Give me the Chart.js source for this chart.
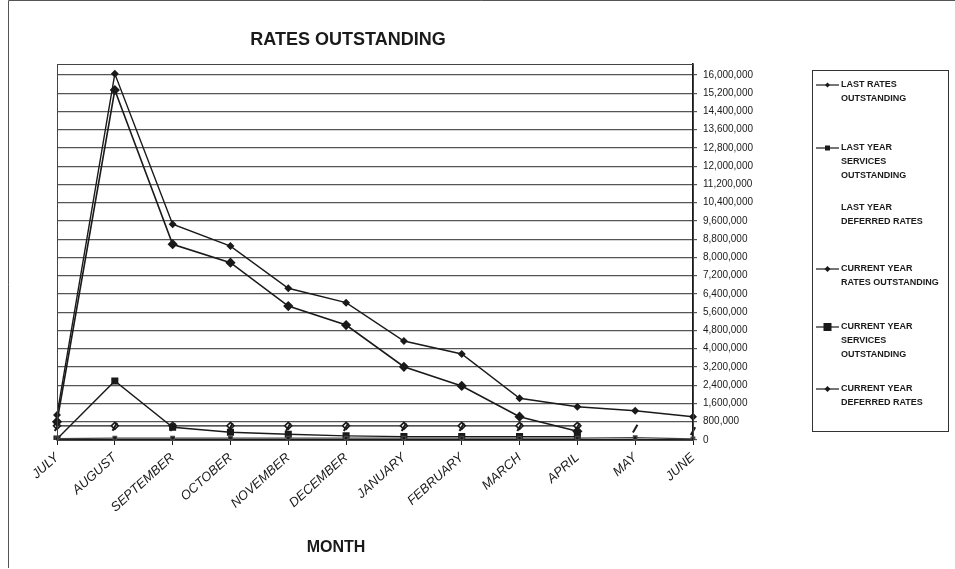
<!DOCTYPE html>
<html>
<head>
<meta charset="utf-8">
<script src="https://cdn.jsdelivr.net/npm/chart.js"></script>
<style>
  body { margin: 0; background: #fff; }
  #wrap { width: 955px; height: 569px; position: relative; }
</style>
</head>
<body>
<div id="wrap"><canvas id="chart" width="955" height="569"></canvas></div>
<script>
// chart data
const months = ['JULY', 'AUGUST', 'SEPTEMBER', 'OCTOBER', 'NOVEMBER', 'DECEMBER',
  'JANUARY', 'FEBRUARY', 'MARCH', 'APRIL', 'MAY', 'JUNE'];

const lastRates = [1100000, 16050000, 9460000, 8500000, 6650000, 6020000,
  4340000, 3770000, 1830000, 1460000, 1280000, 1020000];
const lastServices = [60000, 80000, 80000, 80000, 80000, 80000,
  80000, 80000, 80000, 80000, 100000, 50000];
const lastDeferred = [560000, 580000, 560000, 560000, 560000, 560000,
  560000, 560000, 560000, 560000, 500000, 390000];
const currentRates = [800000, 15340000, 8580000, 7770000, 5870000, 5040000,
  3210000, 2370000, 1020000, 380000, null, null];
const currentServices = [40000, 2590000, 560000, 340000, 250000, 180000,
  150000, 150000, 150000, 150000, null, null];
const currentDeferred = [620000, 620000, 620000, 620000, 620000, 620000,
  620000, 620000, 620000, 620000, null, null];

const yTicks = [0, 800000, 1600000, 2400000, 3200000, 4000000, 4800000, 5600000,
  6400000, 7200000, 8000000, 8800000, 9600000, 10400000, 11200000, 12000000,
  12800000, 13600000, 14400000, 15200000, 16000000];

const legendItems = [
  { lines: ['LAST RATES', 'OUTSTANDING'], marker: 'diamond', size: 2.5 },
  { lines: ['LAST YEAR', 'SERVICES', 'OUTSTANDING'], marker: 'square', size: 2.5 },
  { lines: ['LAST YEAR', 'DEFERRED RATES'], marker: null },
  { lines: ['CURRENT YEAR', 'RATES OUTSTANDING'], marker: 'diamond', size: 3 },
  { lines: ['CURRENT YEAR', 'SERVICES', 'OUTSTANDING'], marker: 'square', size: 4 },
  { lines: ['CURRENT YEAR', 'DEFERRED RATES'], marker: 'diamond', size: 3 }
];
const legendTops = [85, 148, 208, 269, 327, 389];

const INK = '#1a1a1a';

// white page, outer frame, plot frame, titles and the legend
const decorations = {
  id: 'decorations',
  beforeDraw(chart) {
    const ctx = chart.ctx;
    ctx.save();
    ctx.fillStyle = '#fff';
    ctx.fillRect(0, 0, chart.width, chart.height);
    ctx.strokeStyle = '#555';
    ctx.lineWidth = 1;
    ctx.beginPath();
    ctx.moveTo(8.5, 568);
    ctx.lineTo(8.5, 0.5);
    ctx.lineTo(955, 0.5);
    ctx.stroke();
    ctx.restore();
  },
  afterDraw(chart) {
    const ctx = chart.ctx;
    const a = chart.chartArea;
    ctx.save();
    ctx.strokeStyle = '#444';
    ctx.lineWidth = 1;
    ctx.strokeRect(a.left + 0.5, a.top + 0.5, a.right - a.left, a.bottom - a.top);

    ctx.fillStyle = INK;
    ctx.textAlign = 'center';
    ctx.textBaseline = 'middle';
    ctx.font = 'bold 18px "Liberation Sans", Arial, sans-serif';
    ctx.fillText('RATES OUTSTANDING', 348, 40);
    ctx.font = 'bold 16px "Liberation Sans", Arial, sans-serif';
    ctx.fillText('MONTH', 336, 548);

    // legend box
    ctx.strokeStyle = '#333';
    ctx.strokeRect(812.5, 70.5, 136, 361);
    ctx.font = 'bold 9px "Liberation Sans", Arial, sans-serif';
    ctx.textAlign = 'left';
    legendItems.forEach((item, i) => {
      const y = legendTops[i];
      if (item.marker) {
        ctx.strokeStyle = INK;
        ctx.lineWidth = 1.2;
        ctx.beginPath();
        ctx.moveTo(816, y);
        ctx.lineTo(839, y);
        ctx.stroke();
        ctx.fillStyle = INK;
        const s = item.size;
        ctx.beginPath();
        if (item.marker === 'diamond') {
          ctx.moveTo(827.5, y - s);
          ctx.lineTo(827.5 + s, y);
          ctx.lineTo(827.5, y + s);
          ctx.lineTo(827.5 - s, y);
          ctx.closePath();
        } else {
          ctx.rect(827.5 - s, y - s, 2 * s, 2 * s);
        }
        ctx.fill();
      }
      ctx.fillStyle = INK;
      item.lines.forEach((t, j) => ctx.fillText(t, 841, y + j * 13.7));
    });
    ctx.restore();
  }
};

const ctx = document.getElementById('chart').getContext('2d');
new Chart(ctx, {
  type: 'line',
  data: {
    labels: months,
    datasets: [
      {
        label: 'LAST RATES OUTSTANDING',
        data: lastRates,
        borderColor: INK, backgroundColor: INK, borderWidth: 1.4,
        pointStyle: 'rectRot', pointRadius: 3
      },
      {
        label: 'LAST YEAR SERVICES OUTSTANDING',
        data: lastServices,
        borderColor: '#444', backgroundColor: INK, borderWidth: 1.2,
        pointStyle: 'rect', pointRadius: 2.5
      },
      {
        label: 'LAST YEAR DEFERRED RATES',
        data: lastDeferred,
        showLine: false,
        borderColor: INK, backgroundColor: INK, borderWidth: 2,
        pointStyle: 'line', pointRotation: -60, pointRadius: 4.5
      },
      {
        label: 'CURRENT YEAR RATES OUTSTANDING',
        data: currentRates,
        borderColor: INK, backgroundColor: INK, borderWidth: 1.6,
        pointStyle: 'rectRot', pointRadius: 4
      },
      {
        label: 'CURRENT YEAR SERVICES OUTSTANDING',
        data: currentServices,
        borderColor: INK, backgroundColor: INK, borderWidth: 1.4,
        pointStyle: 'rect', pointRadius: 4
      },
      {
        label: 'CURRENT YEAR DEFERRED RATES',
        data: currentDeferred,
        borderColor: INK, backgroundColor: '#fff', borderWidth: 1.4,
        pointStyle: 'rectRot', pointRadius: 3.5, pointBorderWidth: 1.6
      }
    ]
  },
  options: {
    responsive: false,
    animation: false,
    spanGaps: false,
    layout: { padding: { left: 57, top: 64, right: 0, bottom: 0 } },
    plugins: {
      legend: { display: false },
      title: { display: false },
      tooltip: { enabled: false }
    },
    scales: {
      x: {
        offset: false,
        grid: {
          drawOnChartArea: false, drawTicks: true, tickLength: 5,
          color: INK, lineWidth: 1
        },
        border: { color: INK, width: 1.5 },
        ticks: {
          autoSkip: false, minRotation: 42, maxRotation: 42, padding: 5,
          color: INK,
          font: { family: '"Liberation Sans", Arial, sans-serif', size: 13, style: 'italic' }
        },
        afterFit(scale) { scale.height = 129; }
      },
      y: {
        position: 'right',
        min: 0,
        max: 16480000,
        afterBuildTicks(scale) { scale.ticks = yTicks.map(v => ({ value: v })); },
        grid: { color: '#555', lineWidth: 1.2, tickLength: 4 },
        border: { color: INK, width: 1.6 },
        ticks: {
          padding: 6,
          color: INK,
          font: { family: '"Liberation Sans", Arial, sans-serif', size: 10 },
          callback: v => v.toLocaleString('en-US')
        },
        afterFit(scale) { scale.width = 262; }
      }
    }
  },
  plugins: [decorations]
});
</script>
</body>
</html>
